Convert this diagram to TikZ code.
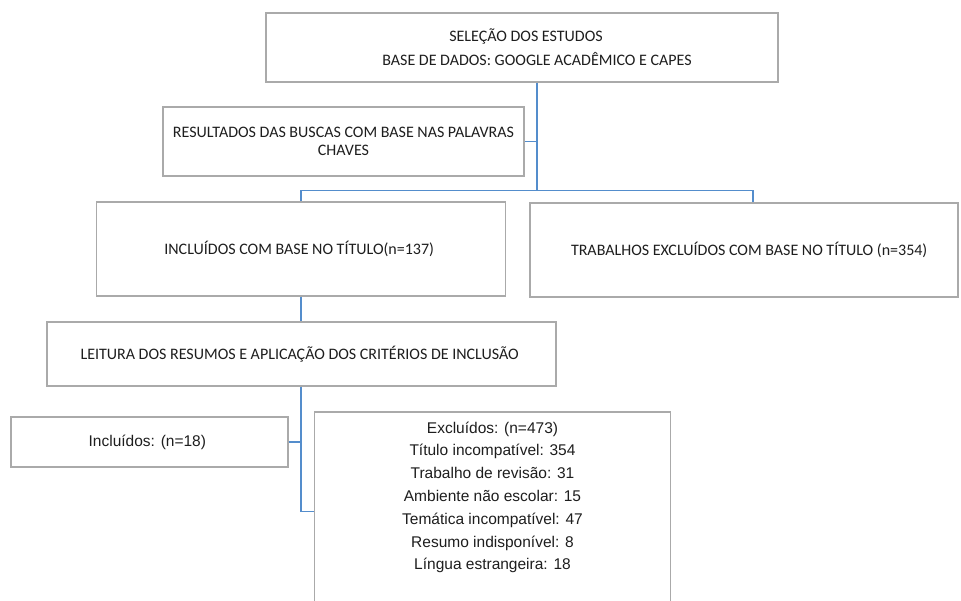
\documentclass[tikz,border=0pt]{standalone}
\usepackage{fontspec}
\setmainfont{Liberation Sans}
\newfontfamily\calibri{Carlito}
\usetikzlibrary{positioning,calc}
\definecolor{boxgray}{RGB}{170,170,170}
\definecolor{linkblue}{RGB}{84,141,204}
\definecolor{txtgray}{RGB}{30,30,30}

\begin{document}
\begin{tikzpicture}[
    x=1pt, y=-1pt,
    box/.style={rectangle, draw=boxgray, line width=1.3pt, fill=white, align=center, text=txtgray, inner sep=0pt},
    upper/.style={box, font=\calibri\fontsize{16}{18}\selectfont},
    lower/.style={box, font=\fontsize{15.5}{22.8}\selectfont},
    link/.style={draw=linkblue, line width=1.2pt}
]
    \clip (0,0) rectangle (961,600);
    \fill[white] (0,0) rectangle (961,600);

    % Selection of studies
    \node[upper, minimum width=512pt, minimum height=69pt] (sel) at (522,47.5) {
        \hspace*{8pt}SELEÇÃO DOS ESTUDOS\\[6pt]
        \hspace*{30pt}BASE DE DADOS: GOOGLE ACADÊMICO E CAPES
    };

    % Search results
    \node[upper, minimum width=361pt, minimum height=69pt] (busca) at (343.5,141.5) {
        RESULTADOS DAS BUSCAS COM BASE NAS PALAVRAS\\
        CHAVES
    };

    % Title screening
    \node[upper, minimum width=409pt, minimum height=94pt] (incl) at (301,249) {
        INCLUÍDOS COM BASE NO TÍTULO(n=137)
    };
    \node[upper, minimum width=428pt, minimum height=94pt] (excl) at (744,250) {
        \hspace*{14pt}TRABALHOS EXCLUÍDOS COM BASE NO TÍTULO (n=354)
    };

    % Abstracts
    \node[upper, minimum width=509pt, minimum height=64pt] (leit) at (301.5,354) {
        LEITURA DOS RESUMOS E APLICAÇÃO DOS CRITÉRIOS DE INCLUSÃO
    };

    % Final
    \node[lower, minimum width=277pt, minimum height=50pt] (inc18) at (149.5,442) {
        Incluídos: (n=18)
    };
    \node[lower, draw=none, fill=none, minimum width=355pt, anchor=north, inner ysep=9pt] (exc473) at (492.5,412) {
        Excluídos: (n=473)\\
        Título incompatível: 354\\
        Trabalho de revisão: 31\\
        Ambiente não escolar: 15\\
        Temática incompatível: 47\\
        Resumo indisponível: 8\\
        Língua estrangeira: 18
    };
    \draw[boxgray, line width=1.3pt] (exc473.north west) rectangle ([yshift=-220pt]exc473.north east);

    % Connectors
    \coordinate (hub) at ($(sel.south)+(15,108)$);
    \draw[link] ([xshift=15pt]sel.south) -- (hub);
    \draw[link] (busca.east) -- (busca.east -| hub);
    \draw[link] (incl.north) |- (hub) -| ([xshift=9pt]excl.north);
    \draw[link] (incl.south) -- (leit.north -| incl.south);
    \draw[link] (leit.south -| incl.south) -- ++(0,125) coordinate (tail);
    \draw[link] (inc18.east) -- (inc18.east -| tail);
    \draw[link] (exc473.west |- tail) -- (tail);
\end{tikzpicture}
\end{document}
